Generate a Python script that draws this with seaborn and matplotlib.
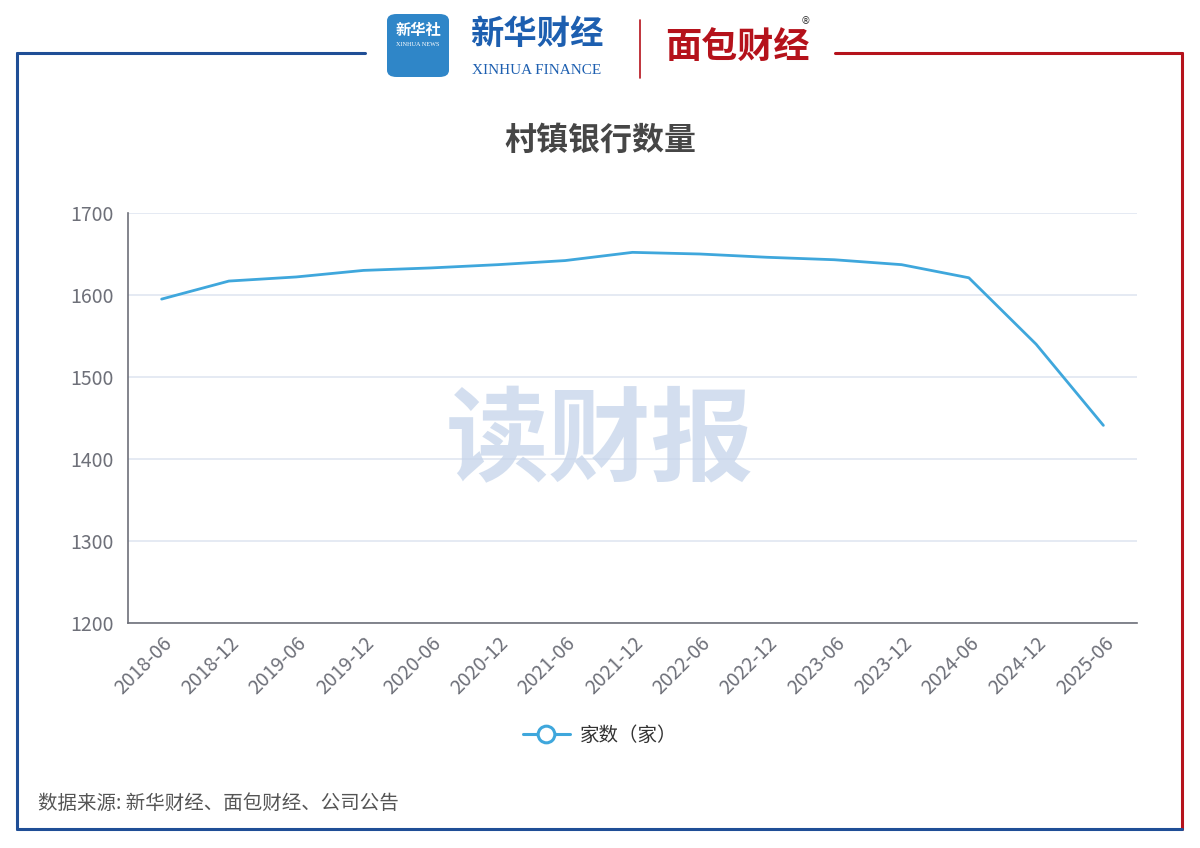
import numpy as np
import pandas as pd
import matplotlib
matplotlib.use("Agg")
import matplotlib.pyplot as plt
import seaborn as sns
from matplotlib.patches import FancyBboxPatch
from matplotlib.lines import Line2D

periods = ["2018-06", "2018-12", "2019-06", "2019-12", "2020-06", "2020-12",
           "2021-06", "2021-12", "2022-06", "2022-12", "2023-06", "2023-12",
           "2024-06", "2024-12", "2025-06"]
counts = [1595, 1617, 1622, 1630, 1633, 1637, 1642, 1652, 1650, 1646,
          1643, 1637, 1621, 1540, 1441]
series_name = "家数（家）"
title = "村镇银行数量"
source = "数据来源: 新华财经、面包财经、公司公告"

sns.set_theme(style="white")
plt.rcParams['font.family'] = ['Noto Sans CJK SC', 'DejaVu Sans']

df = pd.DataFrame({"pos": np.arange(len(periods)), "count": counts})

fig = plt.figure(figsize=(12, 8.48), dpi=100)
W, H = 1200, 848

def fx(px):
    return px / W

def fy(py):
    return 1 - py / H

ax = fig.add_axes([fx(128), fy(623), fx(1137) - fx(128), fy(213) - fy(623)])
line_color = "#3fa7dc"
sns.lineplot(data=df, x="pos", y="count", ax=ax, color=line_color, linewidth=2.0)

ax.set_xlim(-0.5, len(periods) - 0.5)
ax.set_ylim(1200, 1700)
ax.set_yticks([1200, 1300, 1400, 1500, 1600, 1700])
ax.set_xticks(np.arange(len(periods)))
ax.set_xticklabels(periods, rotation=45, ha="right", rotation_mode="anchor")
ax.set_xticks(np.arange(len(periods) + 1) - 0.5, minor=True)
ax.tick_params(axis="x", which="major", length=0, pad=7, labelsize=14, colors="#6e7079")
ax.tick_params(axis="x", which="minor", length=5, width=1.2, color="#6e7079", direction="out")
ax.tick_params(axis="y", length=0, pad=10, labelsize=14, colors="#6e7079")
ax.set_xlabel("")
ax.set_ylabel("")
ax.grid(axis="y", color="#e0e6f1", linewidth=1.2)
for s in ["top", "right"]:
    ax.spines[s].set_visible(False)
ax.spines["left"].set_color("#6e7079")
ax.spines["bottom"].set_color("#6e7079")
ax.spines["left"].set_linewidth(1.2)
ax.spines["bottom"].set_linewidth(1.2)
ax.set_axisbelow(True)

# watermark
fig.text(0.5, fy(443), "读财报", ha="center", va="center", fontsize=74,
         fontweight="heavy", color="#c5d4ea", alpha=0.75, zorder=0)

# title
fig.text(0.5, fy(141), title, ha="center", va="center", fontsize=23,
         fontweight="bold", color="#464646")

# legend
handle = Line2D([], [], color=line_color, linewidth=2.2, marker="o", markersize=12,
                markerfacecolor="white", markeredgecolor=line_color, markeredgewidth=2.2)
fig.legend([handle], [series_name], loc="center", bbox_to_anchor=(0.5, fy(735)),
           frameon=False, fontsize=14, handlelength=2.4, handletextpad=0.5,
           labelcolor="#333333")

# source
fig.text(fx(38), fy(803), source, ha="left", va="center", fontsize=14, color="#555555")

# frame
blue = "#1f4e96"
red = "#b5121b"
frame_lines = [
    ([17, 365], [53, 53], blue),
    ([835, 1182], [53, 53], red),
    ([17, 17], [53, 829], blue),
    ([1182, 1182], [53, 829], red),
    ([17, 1182], [829, 829], blue),
]
for xs, ys, c in frame_lines:
    fig.add_artist(Line2D([fx(v) for v in xs], [fy(v) for v in ys], color=c,
                          linewidth=2.2, transform=fig.transFigure))

# header logos
box = FancyBboxPatch((fx(387), fy(77)), fx(62), fy(14) - fy(77),
                     boxstyle="round,pad=0,rounding_size=0.008",
                     transform=fig.transFigure, facecolor="#2f86c8", edgecolor="none")
fig.add_artist(box)
fig.text(fx(418), fy(30), "新华社", ha="center", va="center", fontsize=11,
         fontweight="bold", color="white")
fig.text(fx(418), fy(44), "XINHUA NEWS", ha="center", va="center", fontsize=4.5,
         color="white", family=["Liberation Serif", "DejaVu Serif"])
fig.text(fx(537), fy(34), "新华财经", ha="center", va="center", fontsize=24,
         fontweight="bold", color="#1d5fb0", style="italic")
fig.text(fx(537), fy(70), "XINHUA FINANCE", ha="center", va="center", fontsize=11,
         color="#1d5fb0", family=["Liberation Serif", "DejaVu Serif"])
fig.add_artist(Line2D([fx(640), fx(640)], [fy(20), fy(78)], color="#b5121b",
                      linewidth=1.2, transform=fig.transFigure))
fig.text(fx(737), fy(47), "面包财经", ha="center", va="center", fontsize=26,
         fontweight="bold", color="#b5121b")
fig.text(fx(806), fy(21), "®", ha="center", va="center", fontsize=7,
         color="#333333", family=["DejaVu Sans"])

fig.savefig("out.png", dpi=100)
